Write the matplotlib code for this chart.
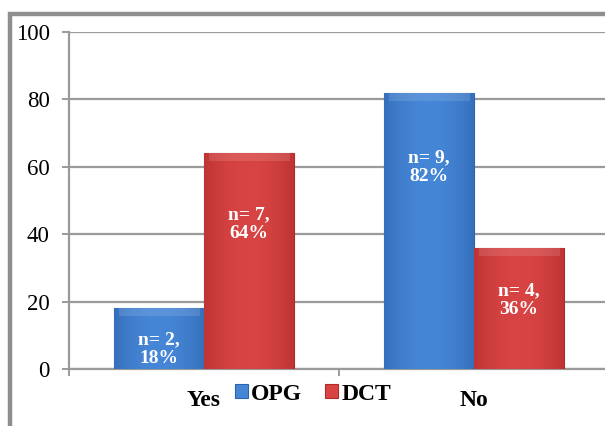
import numpy as np
import matplotlib.pyplot as plt
from matplotlib.patches import Rectangle

categories = ['Yes', 'No']
series = ['OPG', 'DCT']
opg_values = [18, 82]
dct_values = [64, 36]
opg_counts = [2, 9]
dct_counts = [7, 4]

# heights where the "n=, %" labels sit inside each bar
opg_label_y = [6, 60]
dct_label_y = [43, 20.5]

colors = {'OPG': ('#2c63ad', '#4686d6'), 'DCT': ('#b02a2a', '#d84444')}

plt.rcParams['font.family'] = ['Liberation Serif', 'DejaVu Serif']

fig = plt.figure(figsize=(6.05, 4.26), dpi=100)
W, H = 605, 426
ax = fig.add_axes([69 / W, 57 / H, 540 / W, 337 / H])

x = np.arange(len(categories))
width = 1 / 3


def shaded_bars(xpos, values, name):
    dark, light = colors[name]
    bars = ax.bar(xpos, values, width, color=light, edgecolor=dark,
                  linewidth=0.8, label=name, zorder=3)
    # horizontal shading: darker at the sides, lighter in the middle
    grad = np.abs(np.linspace(-1, 1, 64))[None, :] ** 2
    cmap = plt.matplotlib.colors.LinearSegmentedColormap.from_list(
        name, [light, dark])
    for b in bars:
        x0, w, h = b.get_x(), b.get_width(), b.get_height()
        im = ax.imshow(grad, cmap=cmap, aspect='auto', vmin=0, vmax=1.6,
                       extent=(x0, x0 + w, 0, h), zorder=3.1)
        im.set_clip_path(b)
        # lighter bevel along the top edge
        ax.add_patch(Rectangle((x0 + w * 0.05, h - 2.4), w * 0.9, 2.4,
                               facecolor='white', alpha=0.12,
                               edgecolor='none', zorder=3.2))
    return bars


b1 = shaded_bars(x - width / 2, opg_values, 'OPG')
b2 = shaded_bars(x + width / 2, dct_values, 'DCT')

for i in range(len(categories)):
    ax.text(x[i] - width / 2, opg_label_y[i],
            f'n= {opg_counts[i]},\n{opg_values[i]}%', ha='center',
            va='center', color='white', fontsize=14, fontweight='bold',
            linespacing=1.15, zorder=5)
    ax.text(x[i] + width / 2, dct_label_y[i],
            f'n= {dct_counts[i]},\n{dct_values[i]}%', ha='center',
            va='center', color='white', fontsize=14, fontweight='bold',
            linespacing=1.15, zorder=5)

grid_col = '#9a9a9a'
ax.set_xlim(-0.5, 1.5)
ax.set_ylim(0, 100)
ax.set_yticks(range(0, 101, 20))
ax.yaxis.grid(True, color=grid_col, linewidth=1.6, zorder=0)
ax.set_axisbelow(True)
ax.tick_params(axis='y', length=5, width=1.4, color=grid_col,
               labelsize=16.5, pad=9)

ax.set_xticks(x)
ax.set_xticklabels(categories, fontsize=17, fontweight='bold')
ax.set_xticks([-0.5, 0.5, 1.5], minor=True)
ax.tick_params(axis='x', which='major', length=0, pad=15)
ax.tick_params(axis='x', which='minor', length=5, width=1.4, color=grid_col)

for side in ['top', 'right']:
    ax.spines[side].set_visible(False)
for side in ['left', 'bottom']:
    ax.spines[side].set_color(grid_col)
    ax.spines[side].set_linewidth(1.6)

fig.legend(handles=[b1, b2], labels=series, loc='center',
           bbox_to_anchor=(313 / W, 1 - 394 / H), ncol=2, frameon=False,
           prop={'size': 17, 'weight': 'bold'}, handlelength=0.55,
           handleheight=0.55, handletextpad=0.12, columnspacing=1.0)

# outer gray frame
fig.add_artist(Rectangle((9.5 / W, -0.2), 1.2, 1 - 14 / H + 0.2,
                         transform=fig.transFigure, fill=False,
                         edgecolor='#8e8e8e', linewidth=3.2))

fig.savefig('out.png', dpi=100)
